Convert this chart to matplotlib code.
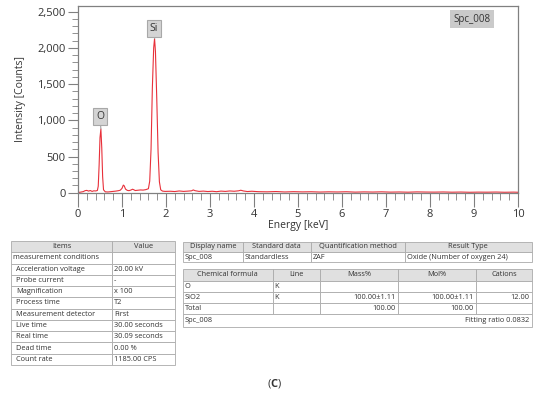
import matplotlib
matplotlib.use('Agg')
import matplotlib.pyplot as plt
from matplotlib.patches import Rectangle
from matplotlib.ticker import MultipleLocator, StrMethodFormatter

plt.rcParams['font.family'] = ['Open Sans', 'DejaVu Sans']
plt.rcParams['mathtext.fontset'] = 'custom'
plt.rcParams['mathtext.bf'] = 'Open Sans:bold'

# SPECTRUM
ENERGY = [0.00, 0.06, 0.12, 0.16, 0.20, 0.24, 0.28, 0.32, 0.36, 0.40, 0.44,
          0.46, 0.48, 0.50, 0.52, 0.54, 0.56, 0.58, 0.62, 0.68, 0.74, 0.80,
          0.86, 0.92, 0.96, 1.00, 1.03, 1.05, 1.08, 1.12, 1.16, 1.20, 1.24,
          1.27, 1.30, 1.36, 1.42, 1.48, 1.54, 1.60, 1.63, 1.66, 1.69, 1.72,
          1.74, 1.76, 1.79, 1.82, 1.85, 1.88, 1.92, 1.98,
          2.1, 2.2, 2.3, 2.4, 2.5, 2.58, 2.62, 2.66, 2.75, 2.85, 2.95,
          3.05, 3.15, 3.25, 3.35, 3.45, 3.55, 3.65, 3.70, 3.76, 3.85, 3.95,
          4.1, 4.3, 4.5, 4.7, 4.9, 5.1, 5.3, 5.5, 5.7, 5.9, 6.1, 6.3, 6.5,
          6.7, 6.9, 7.1, 7.3, 7.5, 7.7, 7.9, 8.1, 8.3, 8.5, 8.7, 8.9, 9.1,
          9.3, 9.5, 9.7, 9.9, 10.0]
COUNTS = [2, 8, 15, 28, 32, 22, 30, 18, 26, 24, 30,
          90, 380, 760, 880, 620, 220, 40, 12, 10, 14, 18,
          22, 28, 34, 60, 105, 95, 50, 32, 28, 36, 48,
          40, 30, 34, 38, 36, 42, 55, 160, 600, 1450, 2000,
          2130, 1950, 1300, 560, 150, 40, 22, 18,
          20, 16, 24, 18, 22, 26, 38, 28, 18, 22, 16,
          20, 14, 22, 18, 24, 20, 26, 34, 24, 16, 20,
          14, 12, 16, 10, 14, 11, 13, 9, 12, 10, 13, 8, 11,
          9, 12, 8, 10, 7, 11, 9, 8, 10, 7, 9, 6, 8,
          7, 9, 6, 8, 6]

PEAK_LABELS = ['O', 'Si']
PEAK_ENERGY = [0.52, 1.74]
PEAK_COUNTS = [880, 2130]
LABEL_POS = [(0.50, 1050), (1.73, 2270)]

# TABLE TEXT
COND_HEADER = ['Items', 'Value']
COND_ROWS = [
    ['measurement conditions', ''],
    ['Acceleration voltage', '20.00 kV'],
    ['Probe current', '-'],
    ['Magnification', 'x 100'],
    ['Process time', 'T2'],
    ['Measurement detector', 'First'],
    ['Live time', '30.00 seconds'],
    ['Real time', '30.09 seconds'],
    ['Dead time', '0.00 %'],
    ['Count rate', '1185.00 CPS'],
]
INFO_HEADER = ['Display name', 'Standard data', 'Quantification method',
               'Result Type']
INFO_ROW = ['Spc_008', 'Standardless', 'ZAF', 'Oxide (Number of oxygen 24)']
QUANT_HEADER = ['Chemical formula', 'Line', 'Mass%', 'Mol%', 'Cations']
QUANT_ROWS = [
    ['O', 'K', '', '', ''],
    ['SiO2', 'K', '100.00\u00b11.11', '100.00\u00b11.11', '12.00'],
    ['Total', '', '100.00', '100.00', ''],
]
FOOT_LEFT = 'Spc_008'
FOOT_RIGHT = 'Fitting ratio 0.0832'

GREY = '#808080'
TXT = '#333333'
HEAD_BG = '#e0e0e0'
LINE_C = '#aaaaaa'

fig = plt.figure(figsize=(5.5, 3.96), dpi=100)

# SPECTRUM AXES
ax = fig.add_axes([78 / 550, 1 - 192.7 / 396, 440 / 550, 187 / 396])
ax.plot(ENERGY, COUNTS, color='#e8303a', lw=0.8)
ax.set_xlim(0, 10)
ax.set_ylim(0, 2583)
ax.xaxis.set_major_locator(MultipleLocator(1))
ax.xaxis.set_minor_locator(MultipleLocator(0.2))
ax.yaxis.set_major_locator(MultipleLocator(500))
ax.yaxis.set_minor_locator(MultipleLocator(100))
ax.yaxis.set_major_formatter(StrMethodFormatter('{x:,.0f}'))
for s in ax.spines.values():
    s.set_color(GREY)
    s.set_linewidth(0.9)
ax.tick_params(axis='x', which='major', direction='out', length=10,
               color=GREY, labelsize=8, labelcolor=TXT, pad=2)
ax.tick_params(axis='x', which='minor', direction='out', length=5,
               color=GREY)
ax.tick_params(axis='y', which='major', direction='out', length=7,
               color=GREY, labelsize=8, labelcolor=TXT, pad=2)
ax.tick_params(axis='y', which='minor', direction='out', length=4,
               color=GREY)
ax.set_xlabel('Energy [keV]', fontsize=7.5, color=TXT, labelpad=0)
ax.set_ylabel('Intensity [Counts]', fontsize=7.5, color=TXT, labelpad=8)

for lab, ex, cy, pos in zip(PEAK_LABELS, PEAK_ENERGY, PEAK_COUNTS,
                            LABEL_POS):
    ax.annotate(lab, xy=(ex, cy), xytext=pos, ha='center', va='center',
                fontsize=7.5, color=TXT,
                bbox=dict(boxstyle='square,pad=0.3', fc='#d4d4d4',
                          ec='#a8a8a8', lw=0.8),
                arrowprops=dict(arrowstyle='-', color='#a0a0a0', lw=0.8,
                                shrinkA=0, shrinkB=0))

ax.text(0.895, 0.927, 'Spc_008', transform=ax.transAxes, ha='center',
        va='center', fontsize=7, color=TXT,
        bbox=dict(boxstyle='square,pad=0.35', fc='#cacaca', ec='none'))

# TABLE LAYER (pixel coords)
tx = fig.add_axes([0, 0, 1, 1])
tx.set_xlim(0, 550)
tx.set_ylim(396, 0)
tx.axis('off')


def draw_table(xs, y0, rh, header, rows, aligns, fs=5.3):
    allrows = [header] + rows
    for r, row in enumerate(allrows):
        top = y0 + r * rh
        for c, val in enumerate(row):
            x0, x1 = xs[c], xs[c + 1]
            fc = HEAD_BG if r == 0 else 'white'
            tx.add_patch(Rectangle((x0, top), x1 - x0, rh, fc=fc,
                                   ec=LINE_C, lw=0.6))
            if r == 0:
                tx.text((x0 + x1) / 2, top + rh / 2, val, ha='center',
                        va='center', fontsize=fs, color=TXT)
                continue
            a = aligns[r - 1][c]
            if a == 'left':
                px = x0 + 2
            elif a == 'indent':
                px = x0 + 5
                a = 'left'
            else:
                px = x1 - 2
            tx.text(px, top + rh / 2, val, ha=a, va='center',
                    fontsize=fs, color=TXT)


cond_align = [['left', 'left']] + [['indent', 'left']] * (len(COND_ROWS) - 1)
draw_table([11, 112, 175], 241, 11.27, COND_HEADER, COND_ROWS, cond_align)

draw_table([182.5, 243, 310.7, 405, 531.7], 241.7, 10.3, INFO_HEADER,
           [INFO_ROW], [['left'] * 4])

qy0, qrh = 269.3, 11.2
qalign = [['left', 'left', 'right', 'right', 'right']] * len(QUANT_ROWS)
draw_table([182.5, 272.7, 320, 398, 476, 531.7], qy0, qrh, QUANT_HEADER,
           QUANT_ROWS, qalign)
fy = qy0 + qrh * (len(QUANT_ROWS) + 1)
fh = 12.6
tx.add_patch(Rectangle((182.5, fy), 531.7 - 182.5, fh, fc='white',
                       ec=LINE_C, lw=0.6))
tx.text(185, fy + fh / 2, FOOT_LEFT, ha='left', va='center', fontsize=5.3,
        color=TXT)
tx.text(529.7, fy + fh / 2, FOOT_RIGHT, ha='right', va='center',
        fontsize=5.3, color=TXT)

tx.text(275, 383, r'($\mathbf{C}$)', ha='center', va='center', fontsize=8,
        color=TXT)

plt.savefig('out.png', dpi=100)
plt.close(fig)
